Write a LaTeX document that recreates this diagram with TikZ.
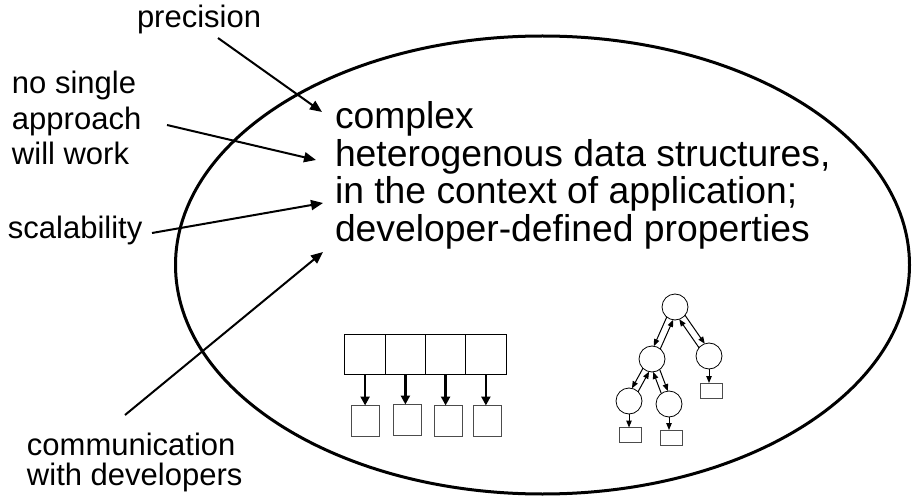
\documentclass[tikz,border=0pt]{standalone}
\usepackage{fontspec}
\setmainfont{Liberation Sans}
\usetikzlibrary{arrows.meta,calc}
\begin{document}
\begin{tikzpicture}[x=1pt,y=-1pt,
  lbl/.style={inner sep=0pt,outer sep=0pt,anchor=base west,align=left,font=\fontsize{31}{35.5}\selectfont},
  maintxt/.style={inner sep=0pt,outer sep=0pt,anchor=base west,align=left,font=\fontsize{37.3}{37.5}\selectfont},
  bigarr/.style={line width=2pt,-{Triangle[length=12pt,width=10pt]}},
  cell/.style={draw,line width=1pt,minimum width=40.25pt,minimum height=40pt,inner sep=0pt,outer sep=0pt},
  leafbox/.style={draw=black!70,line width=1pt,minimum width=28pt,minimum height=31pt,inner sep=0pt,outer sep=0pt},
  cellarr/.style={line width=2.5pt,-{Triangle[length=9pt,width=9pt]}},
  tnode/.style={draw,circle,line width=0.8pt,minimum size=26pt,inner sep=0pt,outer sep=0pt},
  tleaf/.style={draw=black!70,line width=1pt,minimum width=22pt,minimum height=15pt,inner sep=0pt,outer sep=0pt},
  tarr/.style={line width=1pt,-{Triangle[length=7pt,width=5.5pt]}},
]
\useasboundingbox (0,0) rectangle (913,497);
% ellipse
\draw[line width=3pt] (542.5,265) ellipse [x radius=367,y radius=229];
% main text (anchor = baseline of last line)
\node[maintxt] (main) at (335,241.5) {complex\\heterogenous data structures,\\in the context of application;\\developer-defined properties};
% labels
\node[lbl] (prec) at (137,28) {precision};
\node[lbl] (nosingle) at (12,165) {no single\\approach\\will work};
\node[lbl] (scal) at (8,239) {scalability};
\node[lbl,font=\fontsize{31}{30}\selectfont] (comm) at (27,485) {communication\\with developers};
% arrow endpoints
\coordinate (p0) at (218,38);  \coordinate (p1) at (322,112);
\coordinate (n0) at (167,125); \coordinate (n1) at (316,160);
\coordinate (s0) at (152,233); \coordinate (s1) at (323,203);
\coordinate (c0) at (125,415); \coordinate (c1) at (323,252);
\draw[bigarr] (p0) -- (p1);
\draw[bigarr] (n0) -- (n1);
\draw[bigarr] (s0) -- (s1);
\draw[bigarr] (c0) -- (c1);
% array
\foreach \i/\x in {1/365.1,2/405.4,3/445.6,4/485.9}{
  \node[cell] (a\i) at (\x,354) {};
}
\node[leafbox] (b1) at (365,421) {};
\node[leafbox] (b2) at (407,420) {};
\node[leafbox] (b3) at (448,421) {};
\node[leafbox] (b4) at (487,421) {};
\foreach \i in {1,2,3,4}{
  \draw[cellarr] (a\i.south) -- (a\i.south |- b\i.north);
}
% tree
\node[tnode] (r) at (675,307) {};
\node[tnode] (l) at (652,359) {};
\node[tnode] (rr) at (709,356) {};
\node[tnode] (ll) at (629,401) {};
\node[tnode] (lr) at (669,404) {};
\node[tleaf] (rrb) at (711,390.5) {};
\node[tleaf] (llb) at (630.5,435) {};
\node[tleaf] (lrb) at (671,437.5) {};
\foreach \p/\c/\s in {r/l/-1,r/rr/1,l/ll/-1,l/lr/1}{
  \draw[tarr,shorten <=12.5pt,shorten >=12.5pt]
    ($(\p.center)!3.5pt!{\s*90}:(\c.center)$) -- ($(\c.center)!3.5pt!{-\s*90}:(\p.center)$);
  \draw[tarr,shorten <=12.5pt,shorten >=12.5pt]
    ($(\c.center)!3.5pt!{\s*90}:(\p.center)$) -- ($(\p.center)!3.5pt!{-\s*90}:(\c.center)$);
}
\draw[tarr] (rr.south) -- (rr.south |- rrb.north);
\draw[tarr] (ll.south) -- (ll.south |- llb.north);
\draw[tarr] (lr.south) -- (lr.south |- lrb.north);
\end{tikzpicture}
\end{document}
